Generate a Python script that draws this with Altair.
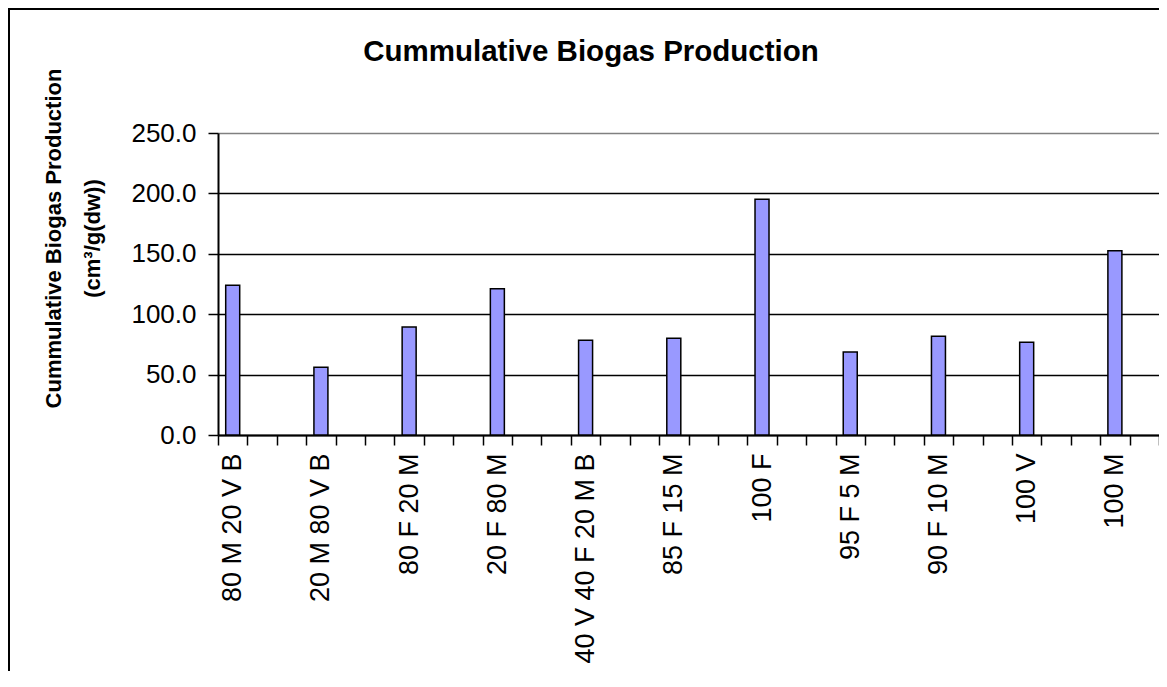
import altair as alt
import pandas as pd

categories = ["80 M 20 V B", "20 M 80 V B", "80 F 20 M", "20 F 80 M", "40 V 40 F 20 M B",
              "85 F 15 M", "100 F", "95 F 5 M", "90 F 10 M", "100 V", "100 M"]
values = [124.0, 56.0, 89.5, 121.0, 78.4, 80.1, 195.1, 68.7, 81.7, 76.8, 152.5]
y_ticks = [0, 50, 100, 150, 200, 250]
title_text = "Cummulative Biogas Production"

# category slots: each named category followed by two empty slots (as in the original axis)
slots = []
for i, c in enumerate(categories):
    slots += [c, f"_{i}a", f"_{i}b"]
slots = slots[:-1]

df = pd.DataFrame({"cat": categories, "val": values})
one = pd.DataFrame({"t": [title_text]})

W, H = 941, 302
FONT = "Liberation Sans, Arial"

bars = alt.Chart(df).mark_bar(size=14, color="#9999FF", stroke="black", strokeWidth=1.5).encode(
    x=alt.X("cat:N", sort=slots,
            scale=alt.Scale(domain=slots, paddingInner=0, paddingOuter=0),
            axis=alt.Axis(title=None,
                          labelExpr="substring(datum.label,0,1) == '_' ? '' : datum.label",
                          labelAngle=270, labelFontSize=27, labelColor="black", labelFont=FONT,
                          labelPadding=8, labelLimit=1000, tickBand="extent", tickSize=10,
                          tickColor="black", tickWidth=1.5, domainColor="black", domainWidth=2,
                          grid=False)),
    y=alt.Y("val:Q", scale=alt.Scale(domain=[0, 250], nice=False),
            axis=alt.Axis(values=y_ticks, format=".1f",
                          title=["Cummulative Biogas Production", "(cm³/g(dw))"],
                          titleFont=FONT, titleFontWeight="bold", titleFontSize=22,
                          titleColor="black", titleLineHeight=39,
                          titleX=-175, titleY=105, titleAngle=270, titleAlign="center",
                          titleBaseline="top",
                          labelFontSize=26, labelColor="black", labelFont=FONT, labelPadding=12,
                          tickSize=10, tickColor="black", tickWidth=1.5,
                          domainColor="black", domainWidth=2,
                          gridColor={"condition": {"test": "datum.value === 250", "value": "#808080"},
                                     "value": "black"},
                          gridWidth=1.5)),
)

title = alt.Chart(one).mark_text(font=FONT, fontSize=29.5, fontWeight="bold", color="black",
                                 align="center", baseline="alphabetic").encode(
    text="t:N", x=alt.value(373), y=alt.value(-72))

frame_left = alt.Chart(one).mark_rule(color="black", strokeWidth=2).encode(
    x=alt.value(-209), y=alt.value(-124), y2=alt.value(H + 400))
frame_top = alt.Chart(one).mark_rule(color="black", strokeWidth=2).encode(
    x=alt.value(-210), x2=alt.value(W + 20), y=alt.value(-124))

chart = alt.layer(bars, title, frame_left, frame_top).properties(
    width=W, height=H,
    padding={"left": 210, "top": 125, "right": 0, "bottom": 236},
    autosize=alt.AutoSizeParams(type="none"),
).configure_view(stroke="#808080", strokeWidth=1.5).configure(background="white")

chart.save("out.html", embed_options={"renderer": "svg", "actions": False})
